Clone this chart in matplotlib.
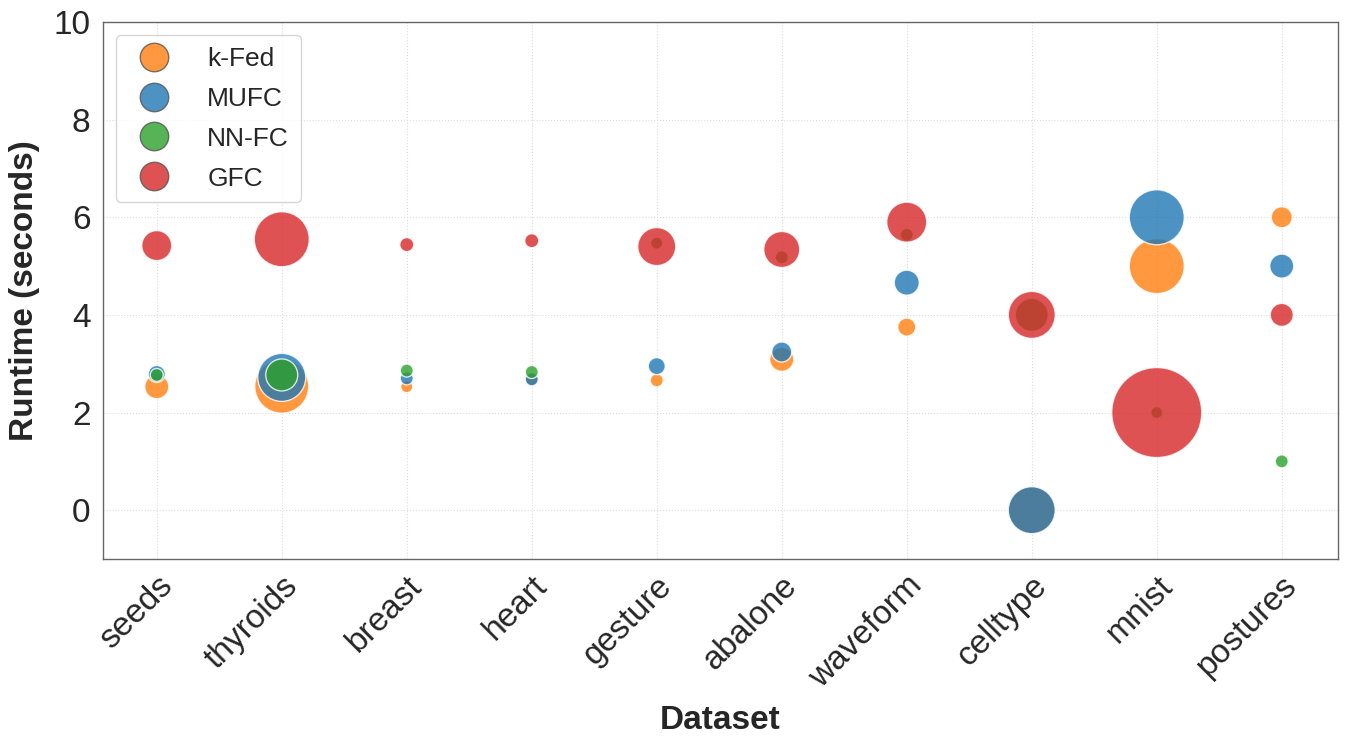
import matplotlib
matplotlib.use("Agg")
import matplotlib.pyplot as plt
from matplotlib.lines import Line2D
import numpy as np

plt.rcParams['font.family'] = ['Liberation Sans', 'DejaVu Sans']

datasets = ["seeds", "thyroids", "breast", "heart", "gesture", "abalone",
            "waveform", "celltype", "mnist", "postures"]
methods = ["k-Fed", "MUFC", "NN-FC", "GFC"]

# runtime (seconds)
kfed_runtime = [2.53, 2.54, 2.53, 2.68, 2.66, 3.09, 3.75, 0.0, 5.0, 6.0]
mufc_runtime = [2.79, 2.72, 2.70, 2.68, 2.95, 3.24, 4.66, 0.0, 6.0, 5.0]
nnfc_runtime = [2.77, 2.77, 2.86, 2.83, 5.47, 5.18, 5.64, 4.0, 2.0, 1.0]
gfc_runtime = [5.42, 5.55, 5.44, 5.52, 5.40, 5.34, 5.90, 4.0, 2.0, 4.0]

# bubble magnitude (relative)
kfed_bubble = [24, 54, 12, 13, 13, 24, 18, 47, 55, 21]
mufc_bubble = [17, 48, 13, 13, 17, 20, 25, 47, 55, 24]
nnfc_bubble = [13, 32, 13, 13, 12, 13, 13, 33, 12, 13]
gfc_bubble = [30, 55, 14, 14, 38, 36, 40, 47, 90, 23]

runtimes = [kfed_runtime, mufc_runtime, nnfc_runtime, gfc_runtime]
bubbles = [kfed_bubble, mufc_bubble, nnfc_bubble, gfc_bubble]
colors = ["#ff7f0e", "#1f77b4", "#2ca02c", "#d62728"]

fig = plt.figure(figsize=(13.48, 7.48), dpi=100)
ax = fig.add_axes([103/1348, 1 - 559/748, (1338-103)/1348, (559-22)/748])

x = np.arange(len(datasets))
for rt, bb, c in zip(runtimes, bubbles, colors):
    s = (np.array(bb) * 0.72) ** 2
    ax.scatter(x, rt, s=s, color=c, alpha=0.8, edgecolors="white",
               linewidths=1.0, zorder=3)

ax.set_xlim(-0.43, 9.45)
ax.set_ylim(-1, 10)
ax.set_yticks([0, 2, 4, 6, 8, 10])
ax.set_xticks(x)
ax.set_xticklabels(datasets, rotation=45, ha="right", rotation_mode="anchor")
ax.tick_params(axis="both", labelsize=24, length=0, colors="#262626")
ax.tick_params(axis="y", pad=9)
ax.tick_params(axis="x", pad=8)

ax.grid(True, linestyle=":", color="#dddddd", linewidth=0.8, zorder=0)
ax.set_axisbelow(True)
for sp in ax.spines.values():
    sp.set_color("#666666")
    sp.set_linewidth(1.0)

ax.set_xlabel("Dataset", fontsize=24, fontweight="bold", color="#262626", labelpad=8)
ax.set_ylabel("Runtime (seconds)", fontsize=24, fontweight="bold", color="#262626", labelpad=10)

handles = [Line2D([0], [0], marker="o", linestyle="none", markersize=20.5,
                  markerfacecolor=c, markeredgecolor="#555555", alpha=0.8,
                  markeredgewidth=1.0) for c in colors]
leg = ax.legend(handles, methods, loc="upper left", fontsize=19,
                frameon=True, fancybox=True, handletextpad=1.0,
                borderpad=0.45, labelspacing=0.6, borderaxespad=0.5)
leg.get_frame().set_edgecolor("#cccccc")
leg.get_frame().set_linewidth(1.0)
for t in leg.get_texts():
    t.set_color("#262626")

fig.savefig("out.png", dpi=100)
